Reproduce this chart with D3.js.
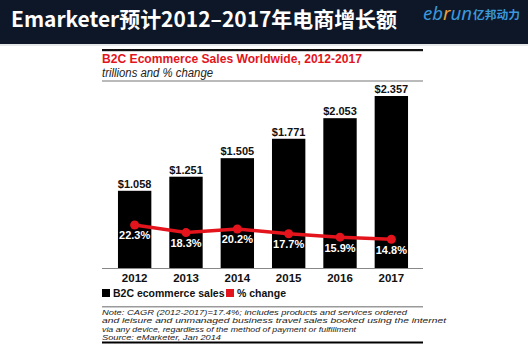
<!DOCTYPE html>
<html>
<head>
<meta charset="utf-8">
<script src="https://cdn.jsdelivr.net/npm/d3@7"></script>
<style>
  body { margin: 0; background: #fff; }
  svg { display: block; }
</style>
</head>
<body>
<script>
// data
const years = ['2012', '2013', '2014', '2015', '2016', '2017'];
const sales = [1.058, 1.251, 1.505, 1.771, 2.053, 2.357];
const pctChange = [22.3, 18.3, 20.2, 17.7, 15.9, 14.8];
const legendLabels = ['B2C ecommerce sales', '% change'];
const noteLines = [
  'Note: CAGR (2012-2017)=17.4%; includes products and services ordered',
  'and leisure and unmanaged business travel sales booked using the internet',
  'via any device, regardless of the method of payment or fulfillment',
  'Source: eMarketer, Jan 2014'
];
const noteWidths = [305, 344, 254, 119];

const W = 528, H = 351;
const left = 102, right = 423, base = 268;
const red = '#e3141c';
const font = '"Liberation Sans", Arial, sans-serif';

const svg = d3.select('body').append('svg')
  .attr('width', W).attr('height', H);

// header band
svg.append('rect').attr('width', W).attr('height', 44).attr('fill', '#0d1728');
svg.append('rect').attr('y', 44).attr('width', W).attr('height', 2).attr('fill', '#e6e8ea');
svg.append('text')
  .attr('x', 11).attr('y', 27)
  .attr('fill', '#fff')
  .attr('font-family', '"Noto Sans CJK SC", "Noto Sans", sans-serif')
  .attr('font-weight', 700)
  .attr('font-size', 21)
  .attr('textLength', 386).attr('lengthAdjust', 'spacingAndGlyphs')
  .text('Emarketer预计2012–2017年电商增长额');

const logo = svg.append('g').attr('font-family', '"Noto Sans", sans-serif');
const eb = logo.append('text').attr('x', 423).attr('y', 19.5)
  .attr('textLength', 49).attr('lengthAdjust', 'spacingAndGlyphs')
  .attr('font-size', 18).attr('font-style', 'italic');
eb.append('tspan').attr('fill', '#3b97dc').text('eb');
eb.append('tspan').attr('fill', '#e8a23a').text('r');
eb.append('tspan').attr('fill', '#3b97dc').text('un');
logo.append('text').attr('x', 473).attr('y', 19)
  .attr('textLength', 47).attr('lengthAdjust', 'spacingAndGlyphs')
  .attr('fill', '#3b97dc').attr('font-size', 11.5)
  .attr('font-family', '"Noto Sans CJK SC", sans-serif').attr('font-weight', 700)
  .text('亿邦动力');

// chart frame lines
svg.append('rect').attr('x', left).attr('y', 49).attr('width', right - left).attr('height', 2.2).attr('fill', '#111');
svg.append('text')
  .attr('x', left).attr('y', 63)
  .attr('fill', red).attr('font-family', font).attr('font-weight', 700).attr('font-size', 12)
  .attr('textLength', 260).attr('lengthAdjust', 'spacingAndGlyphs')
  .text('B2C Ecommerce Sales Worldwide, 2012-2017');
svg.append('text')
  .attr('x', left).attr('y', 77)
  .attr('fill', '#222').attr('font-family', font).attr('font-style', 'italic').attr('font-size', 12)
  .attr('textLength', 111).attr('lengthAdjust', 'spacingAndGlyphs')
  .text('trillions and % change');
svg.append('rect').attr('x', left).attr('y', 80.5).attr('width', right - left).attr('height', 1).attr('fill', '#777');

// scales
const x = d3.scaleBand().domain(years).range([100, 426]).padding(0.35);
const y = d3.scaleLinear().domain([0, 2.357]).range([base, 96]);
const y2 = d3.scaleLinear().domain([0, 100]).range([base - 0.5, base - 0.5 - 190.7]);

// bars
svg.append('g').selectAll('rect')
  .data(sales)
  .join('rect')
  .attr('x', (d, i) => x(years[i]))
  .attr('y', d => y(d))
  .attr('width', x.bandwidth())
  .attr('height', d => base - y(d))
  .attr('fill', '#000');

svg.append('g').selectAll('text')
  .data(sales)
  .join('text')
  .attr('x', (d, i) => x(years[i]) + x.bandwidth() / 2)
  .attr('y', d => y(d) - 3)
  .attr('text-anchor', 'middle')
  .attr('font-family', font).attr('font-weight', 700).attr('font-size', 11)
  .attr('fill', '#111')
  .text(d => '$' + d3.format('.3f')(d));

// x axis
const xAxis = svg.append('g')
  .attr('transform', `translate(0,${base})`)
  .call(d3.axisBottom(x).tickSize(0).tickPadding(6));
xAxis.select('.domain').remove();
svg.append('rect').attr('x', left).attr('y', base).attr('width', right - left).attr('height', 1).attr('fill', '#888');
xAxis.selectAll('text')
  .attr('font-family', font).attr('font-weight', 700).attr('font-size', 11.5).attr('fill', '#111')
  .attr('dy', '0.72em');

// % change line
const cx = i => x(years[i]) + x.bandwidth() / 2;
svg.append('path')
  .datum(pctChange)
  .attr('d', d3.line().x((d, i) => cx(i)).y(d => y2(d)))
  .attr('fill', 'none').attr('stroke', red).attr('stroke-width', 3.5);
svg.append('g').selectAll('circle')
  .data(pctChange)
  .join('circle')
  .attr('cx', (d, i) => cx(i))
  .attr('cy', d => y2(d))
  .attr('r', 4.5)
  .attr('fill', red);
svg.append('g').selectAll('text')
  .data(pctChange)
  .join('text')
  .attr('x', (d, i) => cx(i))
  .attr('y', d => y2(d) + 14.5)
  .attr('text-anchor', 'middle')
  .attr('font-family', font).attr('font-weight', 700).attr('font-size', 11)
  .attr('fill', '#fff')
  .text(d => d.toFixed(1) + '%');

// legend
const legend = svg.append('g').attr('transform', 'translate(102,289)');
const legX = [0, 124];
const legC = ['#000', red];
legendLabels.forEach((label, i) => {
  legend.append('rect').attr('x', legX[i]).attr('y', 0).attr('width', 8).attr('height', 8).attr('fill', legC[i]);
  legend.append('text')
    .attr('x', legX[i] + 11).attr('y', 7.5)
    .attr('font-family', font).attr('font-weight', 700).attr('font-size', 10.5).attr('fill', '#111')
    .text(label);
});

// note
svg.append('rect').attr('x', left).attr('y', 306).attr('width', right - left).attr('height', 1.5).attr('fill', '#9a9a9a');
svg.append('g').selectAll('text')
  .data(noteLines)
  .join('text')
  .attr('x', left)
  .attr('y', (d, i) => 314.5 + i * 8.5)
  .attr('font-family', font).attr('font-style', 'italic').attr('font-size', 7.4).attr('fill', '#222')
  .attr('textLength', (d, i) => noteWidths[i]).attr('lengthAdjust', 'spacingAndGlyphs')
  .text(d => d);
svg.append('rect').attr('x', left).attr('y', 341.5).attr('width', right - left).attr('height', 2).attr('fill', '#000');
</script>
</body>
</html>
